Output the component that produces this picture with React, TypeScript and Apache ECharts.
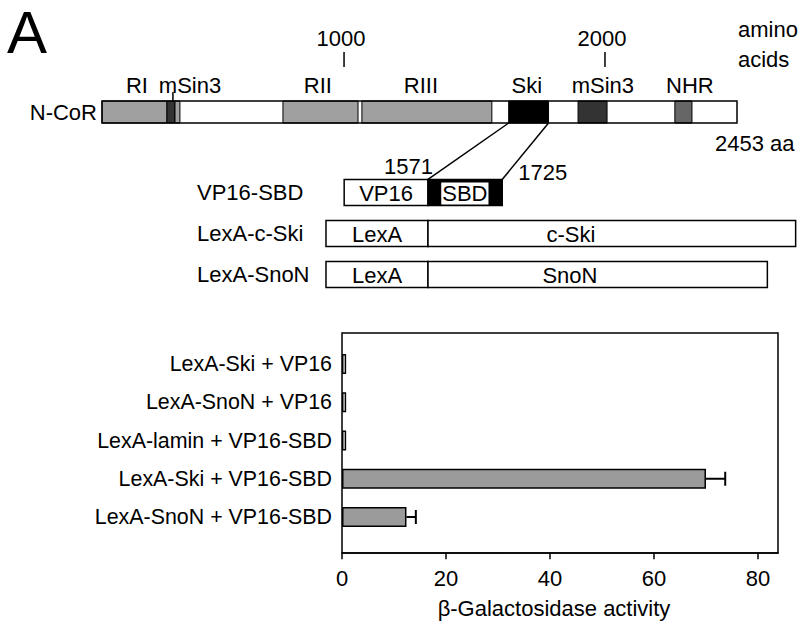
import { useEffect, useRef } from "react";
import * as echarts from "echarts";

const FONT = "'Liberation Sans', Arial, Helvetica, sans-serif";

// ---- N-CoR domain map (amino-acid positions) ----
const NCOR_NAME = "N-CoR";
const NCOR_LENGTH = 2453;
const domainStart = [0, 251, 282, 699, 1004, 1571, 1839, 2213];
const domainEnd = [251, 282, 301, 989, 1506, 1725, 1951, 2279];
const domainKind = [0, 1, 0, 0, 0, 2, 1, 3]; // 0 repression domain, 1 mSin3, 2 Ski binding, 3 NHR
const domainLabels = ["RI", "mSin3", "RII", "RIII", "Ski", "mSin3", "NHR"];
const domainLabelAt = [135, 340, 834, 1232, 1641, 1935, 2271];
const domainLabelLeader = [null, 274, null, null, null, null, null];
const scaleTickLabels = ["1000", "2000"];
const scaleTickAt = [935, 1943];
const SBD_START = 1571;
const SBD_END = 1725;

// ---- fusion constructs (aa, 0 = fusion junction) ----
const constructNames = ["VP16-SBD", "LexA-c-Ski", "LexA-SnoN"];
const partRow = [0, 0, 1, 1, 2, 2];
const partName = ["VP16", "SBD", "LexA", "c-Ski", "LexA", "SnoN"];
const partStart = [-166, 0, -202, 0, -202, 0];
const partEnd = [0, 147, 0, 728, 0, 672];
const partLabelAt = [-83, 73, -101, 283, -101, 281];
const partFilled = [0, 1, 0, 0, 0, 0];

// ---- two-hybrid assay ----
const assays = [
  "LexA-Ski + VP16",
  "LexA-SnoN + VP16",
  "LexA-lamin + VP16-SBD",
  "LexA-Ski + VP16-SBD",
  "LexA-SnoN + VP16-SBD",
];
const activity = [0.8, 0.8, 0.8, 70.0, 12.4];
const activityErr = [0, 0, 0, 3.7, 1.8];
const activityTicks = [0, 20, 40, 60, 80];
const ACTIVITY_MAX = 83.85;

const kindColors = ["#a0a0a0", "#333333", "#000000", "#666666"];

export default function App() {
  const ref = useRef<HTMLDivElement>(null);

  useEffect(() => {
    const el = ref.current!;
    const chart = echarts.init(el, null, { renderer: "svg" });

    const ts = (extra: any) => ({
      fill: "#000",
      fontSize: 22,
      fontFamily: FONT,
      ...extra,
    });

    const option: any = {
      animation: false,
      backgroundColor: "#fff",
      grid: [
        { left: 102, width: 635, top: 101, height: 22 },
        { left: 306.8, width: 489.85, top: 172, height: 123 },
        { left: 342, width: 436, top: 344.875, height: 191.25 },
      ],
      xAxis: [
        { gridIndex: 0, type: "value", min: 0, max: NCOR_LENGTH, show: false },
        { gridIndex: 1, type: "value", min: -240, max: 730, show: false },
        {
          gridIndex: 2,
          type: "value",
          min: 0,
          max: ACTIVITY_MAX,
          position: "bottom",
          offset: 17,
          axisLine: { show: true, lineStyle: { color: "#000", width: 1.5 } },
          axisTick: {
            show: true,
            length: 6,
            customValues: activityTicks,
            lineStyle: { color: "#000", width: 1.5 },
          },
          axisLabel: {
            customValues: activityTicks,
            fontSize: 22,
            fontFamily: FONT,
            color: "#000",
            margin: 14,
          },
          splitLine: { show: false },
          name: "β-Galactosidase activity",
          nameLocation: "middle",
          nameGap: 44,
          nameTextStyle: {
            fontSize: 22,
            fontFamily: FONT,
            color: "#000",
            padding: [0, 12, 0, 0],
          },
        },
      ],
      yAxis: [
        {
          gridIndex: 0,
          type: "category",
          data: [NCOR_NAME],
          axisLine: { show: false },
          axisTick: { show: false },
          axisLabel: { margin: 5, fontSize: 22, fontFamily: FONT, color: "#000" },
        },
        {
          gridIndex: 1,
          type: "category",
          inverse: true,
          data: constructNames,
          axisLine: { show: false },
          axisTick: { show: false },
          axisLabel: {
            align: "left",
            margin: 109.8,
            fontSize: 22,
            fontFamily: FONT,
            color: "#000",
          },
        },
        {
          gridIndex: 2,
          type: "category",
          inverse: true,
          data: assays,
          axisLine: { show: false },
          axisTick: { show: false },
          axisLabel: { margin: 10, fontSize: 21.4, fontFamily: FONT, color: "#000" },
        },
      ],
      series: [
        // N-CoR backbone (white fill)
        {
          type: "custom",
          xAxisIndex: 0,
          yAxisIndex: 0,
          z: 2,
          data: [[0, NCOR_LENGTH, 0]],
          renderItem: (_p: any, api: any) => {
            const s = api.coord([api.value(0), api.value(2)]);
            const e = api.coord([api.value(1), api.value(2)]);
            const h = api.size([0, 1])[1];
            return {
              type: "rect",
              shape: { x: s[0], y: s[1] - h / 2, width: e[0] - s[0], height: h },
              style: { fill: "#fff", stroke: null },
            };
          },
        },
        // domains
        {
          type: "custom",
          xAxisIndex: 0,
          yAxisIndex: 0,
          z: 3,
          data: domainStart.map((s, i) => [s, domainEnd[i], 0, domainKind[i]]),
          renderItem: (_p: any, api: any) => {
            const s = api.coord([api.value(0), api.value(2)]);
            const e = api.coord([api.value(1), api.value(2)]);
            const h = api.size([0, 1])[1];
            return {
              type: "rect",
              shape: { x: s[0], y: s[1] - h / 2, width: e[0] - s[0], height: h },
              style: { fill: kindColors[api.value(3)], stroke: "#000", lineWidth: 1 },
            };
          },
        },
        // backbone outline + length label
        {
          type: "custom",
          xAxisIndex: 0,
          yAxisIndex: 0,
          z: 4,
          data: [[0, NCOR_LENGTH, 0]],
          renderItem: (_p: any, api: any) => {
            const s = api.coord([api.value(0), api.value(2)]);
            const e = api.coord([api.value(1), api.value(2)]);
            const h = api.size([0, 1])[1];
            return {
              type: "group",
              children: [
                {
                  type: "rect",
                  shape: { x: s[0], y: s[1] - h / 2, width: e[0] - s[0], height: h },
                  style: { fill: "none", stroke: "#000", lineWidth: 1.5 },
                },
                {
                  type: "text",
                  x: e[0] - 22,
                  y: s[1] + h / 2 + 20,
                  style: ts({
                    text: NCOR_LENGTH + " aa",
                    align: "left",
                    textAlign: "left",
                    verticalAlign: "middle",
                    textVerticalAlign: "middle",
                  }),
                },
              ],
            };
          },
        },
        // domain labels
        {
          type: "custom",
          xAxisIndex: 0,
          yAxisIndex: 0,
          z: 4,
          data: domainLabelAt.map((x, i) => [x, 0, i]),
          renderItem: (_p: any, api: any) => {
            const i = api.value(2);
            const c = api.coord([api.value(0), api.value(1)]);
            const top = c[1] - api.size([0, 1])[1] / 2;
            const children: any[] = [
              {
                type: "text",
                x: c[0],
                y: top - 16,
                style: ts({
                  text: domainLabels[i],
                  align: "center",
                  textAlign: "center",
                  verticalAlign: "middle",
                  textVerticalAlign: "middle",
                }),
              },
            ];
            const ld = domainLabelLeader[i];
            if (ld != null) {
              const lx = api.coord([ld, 0])[0];
              children.push({
                type: "line",
                shape: { x1: lx, y1: top - 9, x2: lx, y2: top },
                style: { stroke: "#000", lineWidth: 1.5 },
              });
            }
            return { type: "group", children };
          },
        },
        // scale ticks (1000, 2000)
        {
          type: "custom",
          xAxisIndex: 0,
          yAxisIndex: 0,
          z: 4,
          data: scaleTickAt.map((x, i) => [x, 0, i]),
          renderItem: (_p: any, api: any) => {
            const c = api.coord([api.value(0), api.value(1)]);
            const top = c[1] - api.size([0, 1])[1] / 2;
            return {
              type: "group",
              children: [
                {
                  type: "line",
                  shape: { x1: c[0], y1: top - 49, x2: c[0], y2: top - 34 },
                  style: { stroke: "#000", lineWidth: 1.5 },
                },
                {
                  type: "text",
                  x: c[0] - 3,
                  y: top - 63,
                  style: ts({
                    text: scaleTickLabels[api.value(2)],
                    align: "center",
                    textAlign: "center",
                    verticalAlign: "middle",
                    textVerticalAlign: "middle",
                  }),
                },
              ],
            };
          },
        },
        // constructs
        {
          type: "custom",
          xAxisIndex: 1,
          yAxisIndex: 1,
          z: 3,
          data: partStart.map((s, i) => [s, partEnd[i], partRow[i], i]),
          renderItem: (_p: any, api: any) => {
            const i = api.value(3);
            const row = api.value(2);
            const s = api.coord([api.value(0), row]);
            const e = api.coord([api.value(1), row]);
            const h = api.size([0, 1])[1] * 0.64;
            const filled = partFilled[i] === 1;
            const lc = api.coord([partLabelAt[i], row]);
            return {
              type: "group",
              children: [
                {
                  type: "rect",
                  shape: { x: s[0], y: s[1] - h / 2, width: e[0] - s[0], height: h },
                  style: { fill: filled ? "#000" : "#fff", stroke: "#000", lineWidth: 1.5 },
                },
                {
                  type: "text",
                  x: lc[0],
                  y: lc[1] + 1,
                  style: ts({
                    text: partName[i],
                    align: "center",
                    textAlign: "center",
                    verticalAlign: "middle",
                    textVerticalAlign: "middle",
                    backgroundColor: filled ? "#fff" : undefined,
                    padding: filled ? [0, 1, 0, 1] : undefined,
                  }),
                },
              ],
            };
          },
        },
        // activity bars
        {
          type: "bar",
          xAxisIndex: 2,
          yAxisIndex: 2,
          barWidth: 20,
          data: activity,
          itemStyle: {
            color: (p: any) => (p.dataIndex < 3 ? "#ffffff" : "#9b9b9b"),
            borderColor: "#000",
            borderWidth: 1.5,
          },
        },
        // error bars
        {
          type: "custom",
          xAxisIndex: 2,
          yAxisIndex: 2,
          z: 5,
          data: activity
            .map((v, i) => [v, i, activityErr[i]])
            .filter((d) => d[2] > 0),
          renderItem: (_p: any, api: any) => {
            const v = api.value(0);
            const i = api.value(1);
            const p0 = api.coord([v, i]);
            const p1 = api.coord([v + api.value(2), i]);
            return {
              type: "group",
              children: [
                {
                  type: "line",
                  shape: { x1: p0[0], y1: p0[1], x2: p1[0], y2: p1[1] },
                  style: { stroke: "#000", lineWidth: 2 },
                },
                {
                  type: "line",
                  shape: { x1: p1[0], y1: p1[1] - 7, x2: p1[0], y2: p1[1] + 7 },
                  style: { stroke: "#000", lineWidth: 2 },
                },
              ],
            };
          },
        },
      ],
    };

    chart.setOption(option);

    // connection lines from the Ski-binding domain to the SBD construct
    const a = chart.convertToPixel({ gridIndex: 0 }, [SBD_START, 0]) as number[];
    const b = chart.convertToPixel({ gridIndex: 1 }, [0, 0]) as number[];
    const c = chart.convertToPixel({ gridIndex: 0 }, [SBD_END, 0]) as number[];
    const d = chart.convertToPixel({ gridIndex: 1 }, [partEnd[1], 0]) as number[];
    const nHalf = 11;
    const pHalf = 13.1;

    chart.setOption({
      graphic: {
        elements: [
          {
            id: "panel",
            type: "text",
            x: 7,
            y: 32,
            style: {
              text: "A",
              fill: "#000",
              fontSize: 60,
              fontFamily: FONT,
              align: "left",
              textAlign: "left",
              verticalAlign: "middle",
              textVerticalAlign: "middle",
            },
          },
          {
            id: "aa",
            type: "text",
            x: 738,
            y: 44,
            style: {
              text: "amino\nacids",
              fill: "#000",
              fontSize: 22,
              fontFamily: FONT,
              lineHeight: 30,
              align: "left",
              textAlign: "left",
              verticalAlign: "middle",
              textVerticalAlign: "middle",
            },
          },
          {
            id: "frame",
            type: "rect",
            shape: { x: 342, y: 333, width: 436, height: 220 },
            style: { fill: "none", stroke: "#000", lineWidth: 1.5 },
            z: 10,
          },
          {
            id: "connL",
            type: "line",
            shape: { x1: a[0], y1: a[1] + nHalf, x2: b[0], y2: b[1] - pHalf },
            style: { stroke: "#000", lineWidth: 1.5 },
          },
          {
            id: "connR",
            type: "line",
            shape: { x1: c[0], y1: c[1] + nHalf, x2: d[0], y2: d[1] - pHalf },
            style: { stroke: "#000", lineWidth: 1.5 },
          },
          {
            id: "startLbl",
            type: "text",
            x: b[0] + 5,
            y: b[1] - pHalf - 13,
            style: {
              text: String(SBD_START),
              fill: "#000",
              fontSize: 22,
              fontFamily: FONT,
              align: "right",
              textAlign: "right",
              verticalAlign: "middle",
              textVerticalAlign: "middle",
            },
          },
          {
            id: "endLbl",
            type: "text",
            x: d[0] + 16,
            y: d[1] - pHalf - 7,
            style: {
              text: String(SBD_END),
              fill: "#000",
              fontSize: 22,
              fontFamily: FONT,
              align: "left",
              textAlign: "left",
              verticalAlign: "middle",
              textVerticalAlign: "middle",
            },
          },
        ],
      },
    });

    return () => chart.dispose();
  }, []);

  return (
    <div
      ref={ref}
      style={{ position: "fixed", left: 0, top: 0, width: 800, height: 626, background: "#fff" }}
    />
  );
}
